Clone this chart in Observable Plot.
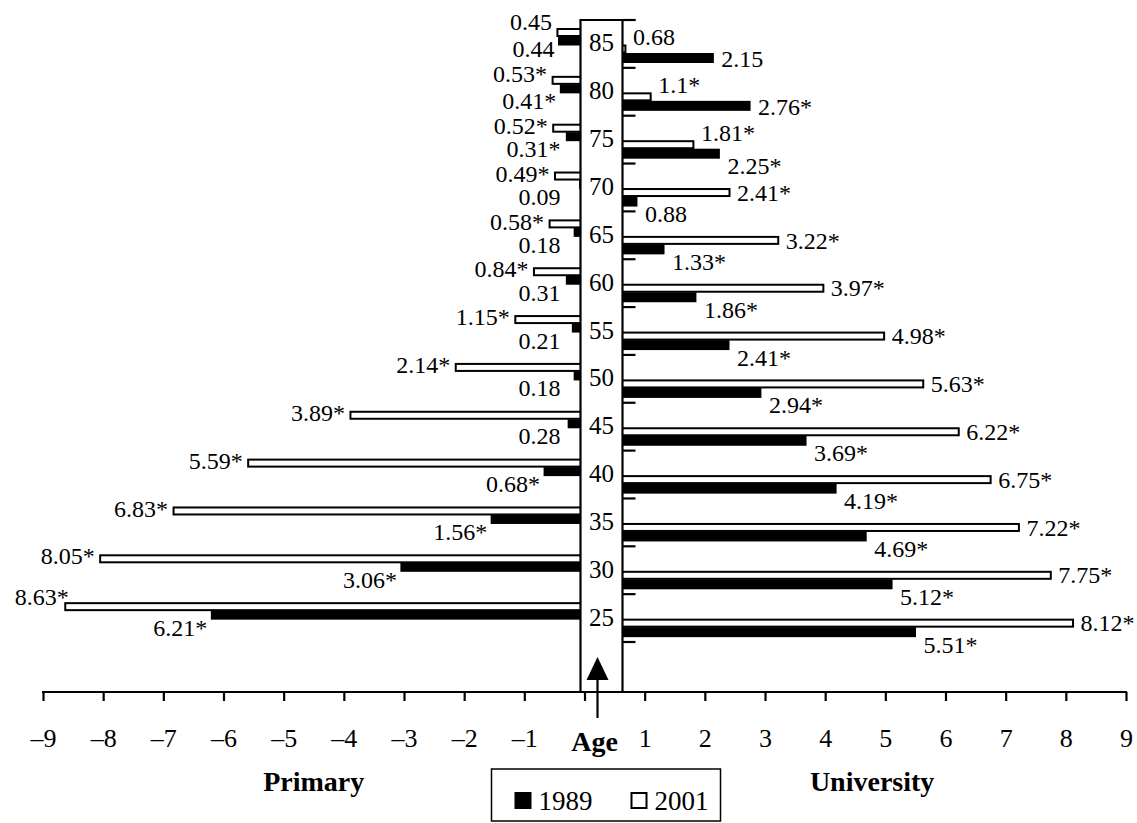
<!DOCTYPE html>
<html>
<head>
<meta charset="utf-8">
<script src="https://cdn.jsdelivr.net/npm/d3@7"></script>
<script src="https://cdn.jsdelivr.net/npm/@observablehq/plot@0.6"></script>
<style>
  html, body { margin: 0; padding: 0; background: #fff; }
</style>
</head>
<body>
<div id="chart"></div>
<script>
// ---- data ----
const ages = [25, 30, 35, 40, 45, 50, 55, 60, 65, 70, 75, 80, 85];

const primary1989     = [6.21, 3.06, 1.56, 0.68, 0.28, 0.18, 0.21, 0.31, 0.18, 0.09, 0.31, 0.41, 0.44];
const primary1989Sig  = [1, 1, 1, 1, 0, 0, 0, 0, 0, 0, 1, 1, 0];
const primary2001     = [8.63, 8.05, 6.83, 5.59, 3.89, 2.14, 1.15, 0.84, 0.58, 0.49, 0.52, 0.53, 0.45];
const primary2001Sig  = [1, 1, 1, 1, 1, 1, 1, 1, 1, 1, 1, 1, 0];

const university1989    = [5.51, 5.12, 4.69, 4.19, 3.69, 2.94, 2.41, 1.86, 1.33, 0.88, 2.25, 2.76, 2.15];
const university1989Sig = [1, 1, 1, 1, 1, 1, 1, 1, 1, 0, 1, 1, 0];
const university2001    = [8.12, 7.75, 7.22, 6.75, 6.22, 5.63, 4.98, 3.97, 3.22, 2.41, 1.81, 1.1, 0.68];
const university2001Sig = [1, 1, 1, 1, 1, 1, 1, 1, 1, 1, 1, 1, 0];

const xTicks = [-9, -8, -7, -6, -5, -4, -3, -2, -1, 0, 1, 2, 3, 4, 5, 6, 7, 8, 9];
const legendYears = ["1989", "2001"];
const sideTitles = ["Primary", "University"];
const centerTitle = "Age";

// ---- build tables ----
const series = (vals, sig) => ages.map((age, i) => ({age, value: vals[i], label: String(vals[i]) + (sig[i] ? "*" : "")}));
const p89 = series(primary1989, primary1989Sig);
const p01 = series(primary2001, primary2001Sig);
const u89 = series(university1989, university1989Sig);
const u01 = series(university2001, university2001Sig);
const topAge = ages[ages.length - 1];

// ---- layout constants ----
const W = 1137, H = 823;
const Y_TOP = 20, Y_BOT = 642;
const BAND = (Y_BOT - Y_TOP) / ages.length;
const FONT = "Liberation Serif, Times New Roman, serif";

const bandY1 = d => d.age - 2.5;
const bandY2 = d => d.age + 2.5;
const bandTop = d => d.age + 2.5;

function bar(data, side, year, t0, t1) {
  const white = year === "2001";
  return Plot.rectX(data, {
    x1: () => 0,
    x2: d => side === "left" ? -d.value : d.value,
    y1: bandY1, y2: bandY2,
    insetTop: t0, insetBottom: BAND - t1,
    fill: white ? "white" : "black",
    stroke: white ? "black" : "none",
    strokeWidth: white ? 2 : 0
  });
}

function decor(index, scales, values, dims) {
  const x = scales.x, y = scales.y;
  const x0 = x(0);
  const bottom = dims.height - dims.marginBottom;
  const colL = x0 - 4, colR = x0 + 38, yTop = y(topAge + 2.5);
  const g = d3.create("svg:g");
  // center column
  g.append("rect").attr("x", colL).attr("y", yTop).attr("width", colR - colL).attr("height", bottom - yTop).attr("fill", "white");
  const ln = (x1, y1, x2, y2) => g.append("line").attr("x1", x1).attr("y1", y1).attr("x2", x2).attr("y2", y2)
      .attr("stroke", "black").attr("stroke-width", 2.2);
  ln(colL, yTop, colL, bottom);
  ln(colR, yTop, colR, bottom);
  ln(colL - 1, yTop, colR + 13, yTop);
  // right axis ticks at age band boundaries
  for (let a = ages[0] - 2.5; a <= topAge + 2.5 + 1e-9; a += 5) {
    ln(colR, y(a), colR + 13, y(a));
  }
  // x axis baseline
  ln(x(-9) - 1, bottom, x(9) + 1, bottom);
  // arrow
  const ax = x0 + 13;
  ln(ax, bottom + 26, ax, bottom - 12);
  g.append("path").attr("d", `M${ax},${bottom - 35}L${ax - 11},${bottom - 12}L${ax + 11},${bottom - 12}Z`).attr("fill", "black");
  return g.node();
}

function bottomTexts(index, scales, values, dims) {
  const x = scales.x;
  const x0 = x(0);
  const bottom = dims.height - dims.marginBottom;
  const g = d3.create("svg:g").attr("font-family", FONT).attr("fill", "black");
  g.append("text").attr("x", x0 + 10).attr("y", bottom + 59).attr("text-anchor", "middle")
    .attr("font-weight", "bold").attr("font-size", 28).text(centerTitle);
  g.append("text").attr("x", x(-4.5)).attr("y", bottom + 99).attr("text-anchor", "middle")
    .attr("font-weight", "bold").attr("font-size", 28).text(sideTitles[0]);
  g.append("text").attr("x", x(4.78)).attr("y", bottom + 99).attr("text-anchor", "middle")
    .attr("font-weight", "bold").attr("font-size", 28).text(sideTitles[1]);
  // legend box
  const bx = x0 - 93, bw = 229, by = bottom + 77;
  g.append("rect").attr("x", bx).attr("y", by).attr("width", bw).attr("height", H - 2 - by)
    .attr("fill", "white").attr("stroke", "black").attr("stroke-width", 1.5);
  const items = [{dx: 23, fill: "black"}, {dx: 139, fill: "white"}];
  legendYears.forEach((yr, i) => {
    const it = items[i];
    g.append("rect").attr("x", bx + it.dx + (i ? 1 : 0)).attr("y", by + 23 + (i ? 1 : 0))
      .attr("width", i ? 15 : 17).attr("height", i ? 15 : 17)
      .attr("fill", it.fill).attr("stroke", "black").attr("stroke-width", i ? 2 : 0);
    g.append("text").attr("x", bx + it.dx + 24).attr("y", by + 41).attr("text-anchor", "start")
      .attr("font-size", 27).text(yr);
  });
  return g.node();
}

const labelFont = {fontFamily: FONT, fontSize: 24, fill: "black"};

const plot = Plot.plot({
  width: W,
  height: H,
  marginLeft: 43,
  marginRight: 11,
  marginTop: Y_TOP,
  marginBottom: 131,
  style: {fontFamily: FONT, fontSize: "24px", background: "white", color: "black", overflow: "visible"},
  x: {domain: [-9, 9]},
  y: {domain: [ages[0] - 2.5, topAge + 2.5], range: [Y_BOT, Y_TOP], axis: null},
  marks: [
    // bars
    bar(p01, "left", "2001", 9, 16),
    bar(p89, "left", "1989", 16.5, 25.5),
    bar(u01, "right", "2001", 25.5, 32.5),
    bar(u89, "right", "1989", 33, 43),
    decor,
    // left 2001 labels (beside bar end; lifted above when too long to fit / in the top rows)
    Plot.text(p01.filter(d => d.value <= 8.3 && d.age < 80), {x: d => -d.value, y: bandTop, dy: 10, dx: -6, text: "label", textAnchor: "end", ...labelFont}),
    Plot.text(p01.filter(d => d.value <= 8.3 && d.age === 80), {x: d => -d.value, y: bandTop, dy: 6, dx: -6, text: "label", textAnchor: "end", ...labelFont}),
    Plot.text(p01.filter(d => d.value <= 8.3 && d.age === topAge), {x: d => -d.value, y: bandTop, dy: 2, dx: -6, text: "label", textAnchor: "end", ...labelFont}),
    Plot.text(p01.filter(d => d.value > 8.3), {x: d => -d.value, y: bandTop, dy: 3, dx: 3, text: "label", textAnchor: "end", ...labelFont}),
    // left 1989 labels (below bars)
    Plot.text(p89.filter(d => d.age < topAge), {x: d => Math.min(-d.value, -0.34), y: bandTop, dy: 24, dx: -4, text: "label", textAnchor: "end", lineAnchor: "top", ...labelFont}),
    Plot.text(p89.filter(d => d.age === topAge), {x: d => Math.min(-d.value, -0.34), y: bandTop, dy: 19, dx: -4, text: "label", textAnchor: "end", lineAnchor: "top", ...labelFont}),
    // right 2001 labels
    Plot.text(u01.filter(d => d.age < 75), {x: "value", y: bandTop, dy: 29, dx: 7, text: "label", textAnchor: "start", ...labelFont}),
    Plot.text(u01.filter(d => d.age >= 75), {x: "value", y: bandTop, dy: 17, dx: 7, text: "label", textAnchor: "start", ...labelFont}),
    // right 1989 labels
    Plot.text(u89.filter(d => d.age < 80), {x: "value", y: bandTop, dy: 41, dx: 7, text: "label", textAnchor: "start", lineAnchor: "top", ...labelFont}),
    Plot.text(u89.filter(d => d.age >= 80), {x: "value", y: bandTop, dy: 39, dx: 7, text: "label", textAnchor: "start", ...labelFont}),
    // age labels in the center column
    Plot.text(ages, {x: () => 0, y: d => d, dx: 16.5, dy: -1, text: d => String(d), fontFamily: FONT, fontSize: 25, fill: "black"}),
    // x axis
    Plot.axisX({
      ticks: xTicks,
      tickSize: 9,
      tickPadding: 27,
      strokeWidth: 2.2,
      tickFormat: d => d === 0 ? "" : d < 0 ? "\u2013" + (-d) : String(d),
      fontSize: 26,
      fontFamily: FONT,
      label: null
    }),
    bottomTexts
  ]
});

document.getElementById("chart").appendChild(plot);
</script>
</body>
</html>
